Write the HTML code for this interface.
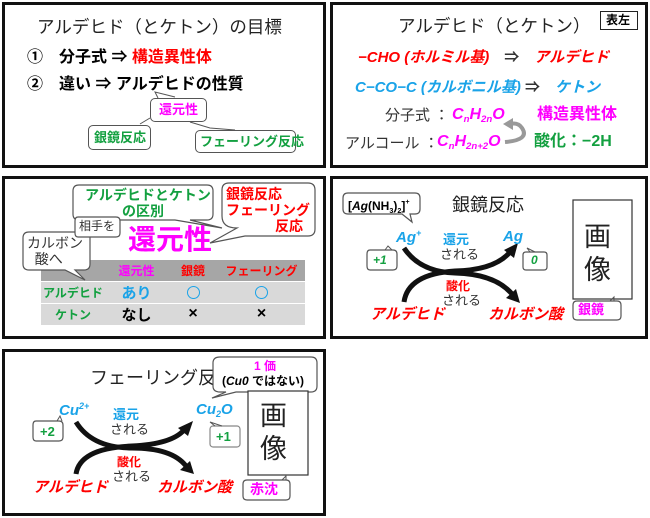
<!DOCTYPE html>
<html><head><meta charset="utf-8"><style>
*{margin:0;padding:0;box-sizing:border-box}
body{width:650px;height:518px;background:#fff;position:relative;overflow:hidden;font-family:"Liberation Sans","Noto Sans CJK JP",sans-serif;color:#000}
.p{position:absolute;border:3px solid #111;background:#fff}
.t{position:absolute;white-space:nowrap;line-height:1}
.b{font-weight:bold}
.box{position:absolute;border:1.3px solid #555;border-radius:5px;background:#fff}
.red{color:#ff0000}.blu{color:#1aa3e8}.grn{color:#13a040}.mag{color:#ff00ff}
svg{position:absolute;left:0;top:0}
sub{font-size:60%;vertical-align:-3px}
sup{font-size:60%;vertical-align:6px}
.ci{display:inline-block;width:13px;height:13px;border:1.8px solid #1aa3e8;border-radius:50%;vertical-align:middle}
</style></head><body>

<!-- panel 1 -->
<div class="p" style="left:2px;top:2px;width:324px;height:166px"></div>
<div class="t" style="left:37px;top:19px;font-size:17.5px;color:#222">アルデヒド（とケトン）の目標</div>
<div class="t b" style="left:27px;top:50px;font-size:16px">①　分子式 ⇒ <span class="red">構造異性体</span></div>
<div class="t b" style="left:27px;top:77px;font-size:16px">②　違い ⇒ アルデヒドの性質</div>
<div class="box" style="left:150px;top:98px;width:57px;height:24px"></div>
<div class="t b mag" style="left:159px;top:103px;font-size:13px">還元性</div>
<div class="box" style="left:88px;top:125px;width:63px;height:25px"></div>
<div class="t b grn" style="left:94px;top:131px;font-size:13px">銀鏡反応</div>
<div class="box" style="left:195px;top:130px;width:101px;height:23px"></div>
<div class="t b grn" style="left:200px;top:135px;font-size:13px">フェーリング反応</div>
<svg width="650" height="518"><g stroke="#555" stroke-width="1" fill="none">
<path d="M158 98 L155 92 L175 97"/><path d="M150 118 L140 124"/><path d="M190 122 L210 128 L235 130"/></g></svg>

<!-- panel 2 -->
<div class="p" style="left:330px;top:2px;width:318px;height:166px"></div>
<div class="box" style="left:600px;top:11px;width:38px;height:19px;border-radius:0;border:1.5px solid #222"></div>
<div class="t b" style="left:606px;top:14px;font-size:12px">表左</div>
<div class="t" style="left:398px;top:18px;font-size:17.5px;color:#222">アルデヒド（とケトン）</div>
<div class="t b red" style="left:358px;top:50px;font-size:15px;font-style:italic">−CHO (ホルミル基)　<span style="color:#333;font-style:normal">⇒</span>　アルデヒド</div>
<div class="t b blu" style="left:355px;top:80px;font-size:15px;font-style:italic">C−CO−C (カルボニル基) <span style="color:#333;font-style:normal">⇒</span>　ケトン</div>
<div class="t" style="left:385px;top:108px;font-size:15px;color:#333">分子式 ：</div>
<div class="t b mag" style="left:452px;top:107px;font-size:16px;font-style:italic">C<sub>n</sub>H<sub>2n</sub>O</div>
<div class="t b mag" style="left:537px;top:107px;font-size:16px">構造異性体</div>
<div class="t" style="left:345px;top:136px;font-size:15px;color:#333">アルコール ：</div>
<div class="t b mag" style="left:437px;top:134px;font-size:16px;font-style:italic">C<sub>n</sub>H<sub>2n+2</sub>O</div>
<div class="t b grn" style="left:534px;top:134px;font-size:16px">酸化：−2H</div>
<svg width="650" height="518"><path d="M505 142 Q530 140 522 128 Q518 122 510 124" stroke="#999" stroke-width="4" fill="none"/><polygon points="503,124 513,118 513,130" fill="#999"/></svg>

<!-- panel 3 -->
<div class="p" style="left:2px;top:176px;width:324px;height:163px"></div>
<table style="position:absolute;left:41px;top:260px;width:264px;border-collapse:collapse;font-weight:bold;font-size:12px;text-align:center">
<tr style="background:#a6a6a6;height:21px"><td style="width:64px"></td><td class="mag" style="width:63px">還元性</td><td class="red" style="width:50px">銀鏡</td><td class="red">フェーリング</td></tr>
<tr style="background:#d9d9d9;height:21px;border-top:1px solid #fff"><td class="grn">アルデヒド</td><td class="blu" style="font-size:15px">あり</td><td><span class="ci"></span></td><td><span class="ci"></span></td></tr>
<tr style="background:#d9d9d9;height:21px;border-top:1px solid #fff"><td class="grn">ケトン</td><td style="font-size:15px">なし</td><td style="font-size:16px">×</td><td style="font-size:16px">×</td></tr>
</table>
<svg width="650" height="518"><g stroke="#555" stroke-width="1.2" fill="#fff">
<path d="M79 185 H207 Q213 185 213 191 V214 Q213 220 207 220 H190 L222 228 L175 220 H79 Q73 220 73 214 V191 Q73 185 79 185Z"/>
<path d="M229 183 H308 Q315 183 315 190 V229 Q315 236 308 236 H245 L210 243 L237 228 Q222 228 222 216 V190 Q222 183 229 183Z"/>
<path d="M29 232 H84 Q90 232 90 238 V264 Q90 270 84 270 H75 L85 280 L65 270 H29 Q23 270 23 264 V238 Q23 232 29 232Z"/>
<path d="M78 217 H116 Q120 217 120 221 V233 Q120 237 116 237 H78 Q75 237 75 233 V221 Q75 217 78 217Z"/>
</g></svg>
<div class="t b grn" style="left:85px;top:188px;font-size:14px">アルデヒドとケトン</div>
<div class="t b grn" style="left:122px;top:204px;font-size:14px">の区別</div>
<div class="t b red" style="left:226px;top:186px;font-size:14px;line-height:16px">銀鏡反応<br>フェーリング<br><span style="padding-left:49px">反応</span></div>
<div class="t" style="left:79px;top:220px;font-size:12px;color:#333">相手を</div>
<div class="t b mag" style="left:128px;top:226px;font-size:28px">還元性</div>
<div class="t" style="left:27px;top:235px;font-size:14px;color:#333;line-height:16px">カルボン<br>&nbsp;&nbsp;酸へ</div>

<!-- panel 4 -->
<div class="p" style="left:330px;top:176px;width:318px;height:163px"></div>
<svg width="650" height="518"><g stroke="#555" stroke-width="1.2" fill="#fff">
<path d="M348 193 H415 Q420 193 420 198 V209 Q420 214 415 214 H410 L412 222 L402 214 H348 Q343 214 343 209 V198 Q343 193 348 193Z"/>
<path d="M370 250 H393 Q397 250 397 254 V266 Q397 270 393 270 H370 Q367 270 367 266 V254 Q367 250 370 250Z"/>
<path d="M526 252 H544 Q547 252 547 255 V267 Q547 270 544 270 H526 Q523 270 523 267 V255 Q523 252 526 252Z"/>
<path d="M577 301 H617 Q621 301 621 305 V316 Q621 320 617 320 H577 Q573 320 573 316 V305 Q573 301 577 301Z"/>
<rect x="573" y="200" width="59" height="99" stroke="#333"/>
</g>
<g stroke="#555" stroke-width="1" fill="none"><path d="M385 250 L388 246 L392 250"/><path d="M530 252 L527 248 L535 252"/><path d="M610 301 L614 297 L614 301"/></g>
<path d="M404 248 Q420 272 455 273 Q495 274 512 294" stroke="#111" stroke-width="5" fill="none"/>
<polygon points="506,298 520,303 516,289" fill="#111"/>
<path d="M404 302 Q408 274 455 271 Q495 270 510 252" stroke="#111" stroke-width="5" fill="none"/>
<polygon points="504,250 518,243 514,258" fill="#111"/>
</svg>
<div class="t" style="left:348px;top:198px;font-size:12px;font-weight:bold">[<i>Ag</i>(NH<sub>3</sub>)<sub>2</sub>]<sup>+</sup></div>
<div class="t" style="left:452px;top:196px;font-size:18px;color:#222">銀鏡反応</div>
<div class="t" style="left:584px;top:221px;font-size:27px;line-height:33px;color:#222">画<br>像</div>
<div class="t b mag" style="left:578px;top:303px;font-size:13px">銀鏡</div>
<div class="t b blu" style="left:396px;top:229px;font-size:15px;font-style:italic">Ag<sup>+</sup></div>
<div class="t b blu" style="left:503px;top:229px;font-size:15px;font-style:italic">Ag</div>
<div class="t b grn" style="left:373px;top:254px;font-size:12px;font-style:italic">+1</div>
<div class="t b grn" style="left:531px;top:254px;font-size:12px;font-style:italic">0</div>
<div class="t b blu" style="left:443px;top:233px;font-size:13px">還元</div>
<div class="t" style="left:440px;top:248px;font-size:13px;color:#333">される</div>
<div class="t b red" style="left:446px;top:280px;font-size:12px">酸化</div>
<div class="t" style="left:442px;top:294px;font-size:13px;color:#333">される</div>
<div class="t b red" style="left:370px;top:307px;font-size:15px;font-style:italic">アルデヒド</div>
<div class="t b red" style="left:488px;top:307px;font-size:15px;font-style:italic">カルボン酸</div>

<!-- panel 5 -->
<div class="p" style="left:2px;top:349px;width:324px;height:167px"></div>
<div class="t" style="left:90px;top:369px;font-size:18px;color:#222">フェーリング反応</div>
<svg width="650" height="518"><g stroke="#555" stroke-width="1.2" fill="#fff">
<path d="M220 357 H311 Q317 357 317 363 V386 Q317 392 311 392 H236 L212 398 L226 392 H220 Q213 392 213 386 V363 Q213 357 220 357Z"/>
<rect x="248" y="391" width="60" height="84" stroke="#333"/>
<path d="M247 480 H286 Q290 480 290 484 V496 Q290 500 286 500 H247 Q243 500 243 496 V484 Q243 480 247 480Z"/>
<path d="M36 421 H59 Q63 421 63 425 V437 Q63 441 59 441 H36 Q33 441 33 437 V425 Q33 421 36 421Z"/>
<rect x="210" y="426" width="30" height="21" rx="3" stroke="#888"/>
</g>
<g stroke="#555" stroke-width="1" fill="none"><path d="M57 421 L60 416 L62 421"/><path d="M282 480 L286 476 L286 480"/><path d="M215 426 L210 422 L222 426"/></g>
<path d="M76 422 Q92 448 132 448 Q172 448 186 466" stroke="#111" stroke-width="5" fill="none"/>
<polygon points="180,470 194,474 190,461" fill="#111"/>
<path d="M76 474 Q80 448 132 446 Q172 444 184 430" stroke="#111" stroke-width="5" fill="none"/>
<polygon points="178,428 193,421 188,436" fill="#111"/>
</svg>
<div class="t b mag" style="left:254px;top:360px;font-size:12px">1 価</div>
<div class="t b" style="left:222px;top:375px;font-size:12px">(<i>Cu0</i> ではない)</div>
<div class="t" style="left:260px;top:400px;font-size:27px;line-height:33px;color:#222">画<br>像</div>
<div class="t b mag" style="left:250px;top:482px;font-size:14px">赤沈</div>
<div class="t b blu" style="left:59px;top:402px;font-size:15px;font-style:italic">Cu<sup>2+</sup></div>
<div class="t b blu" style="left:196px;top:402px;font-size:15px;font-style:italic">Cu<sub>2</sub>O</div>
<div class="t b grn" style="left:40px;top:425px;font-size:13px">+2</div>
<div class="t b grn" style="left:216px;top:430px;font-size:13px">+1</div>
<div class="t b blu" style="left:113px;top:408px;font-size:13px">還元</div>
<div class="t" style="left:110px;top:423px;font-size:13px;color:#333">される</div>
<div class="t b red" style="left:117px;top:456px;font-size:12px">酸化</div>
<div class="t" style="left:112px;top:470px;font-size:13px;color:#333">される</div>
<div class="t b red" style="left:33px;top:480px;font-size:15px;font-style:italic">アルデヒド</div>
<div class="t b red" style="left:157px;top:480px;font-size:15px;font-style:italic">カルボン酸</div>
</body></html>
